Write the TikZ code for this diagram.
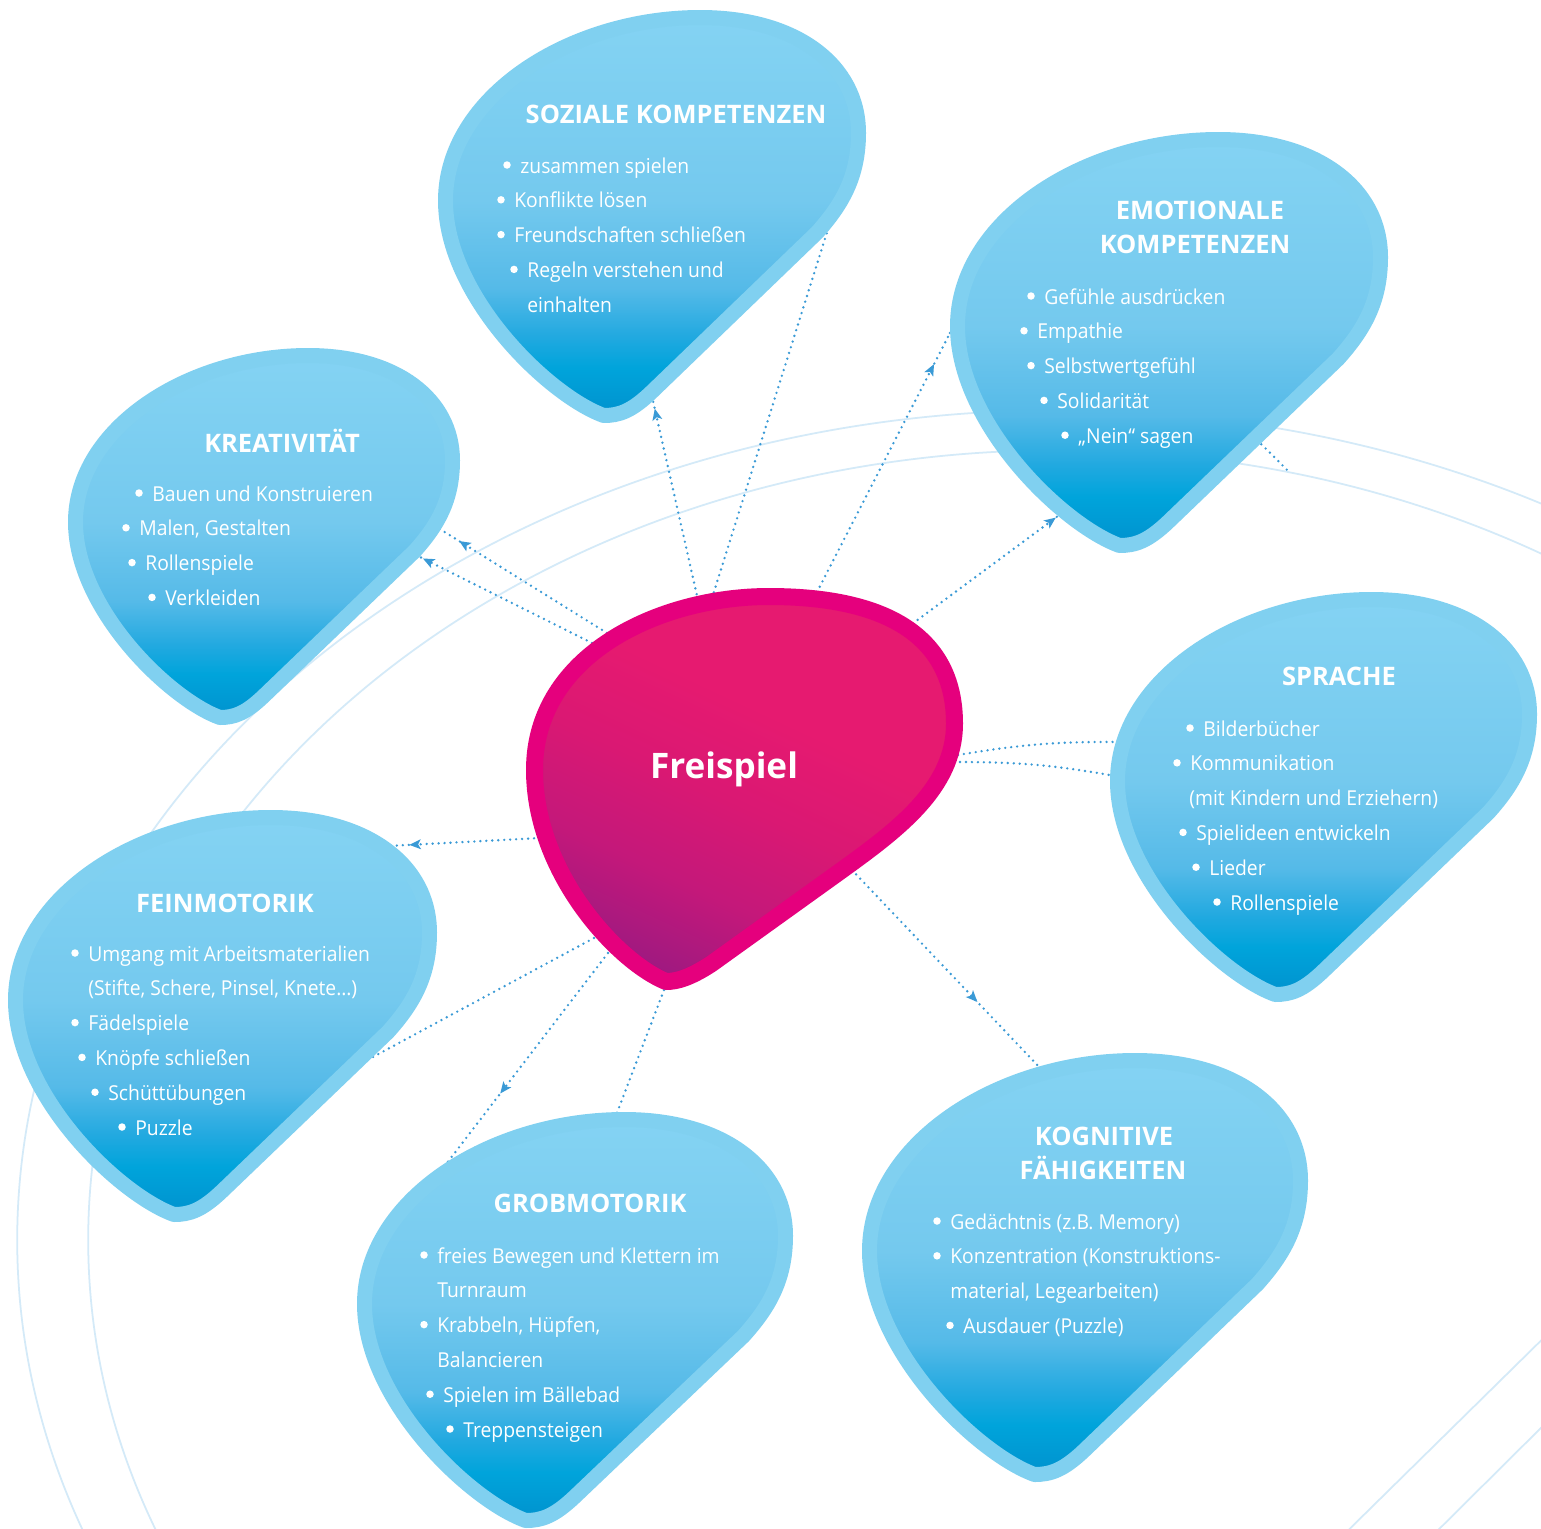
\documentclass[tikz,border=0pt]{standalone}
\usepackage{fontspec}
\setmainfont{Open Sans}
\newfontfamily\bodyfont[FakeStretch=0.94]{Open Sans}
\usepackage{tikz}
\usetikzlibrary{arrows.meta, decorations.markings}

\definecolor{blobedge}{RGB}{128,208,240}
\definecolor{bluelight}{RGB}{132,211,243}
\definecolor{bluemid}{RGB}{116,201,238}
\definecolor{bluesoft}{RGB}{85,186,232}
\definecolor{bluefade}{RGB}{34,169,224}
\definecolor{bluebright}{RGB}{0,164,219}
\definecolor{bluedeep}{RGB}{0,146,206}
\definecolor{pinkedge}{RGB}{229,0,125}
\definecolor{pinktop}{RGB}{230,26,112}
\definecolor{pinkmid}{RGB}{218,24,115}
\definecolor{pinkdeep}{RGB}{196,24,122}
\definecolor{purplebot}{RGB}{160,25,128}
\definecolor{linkblue}{RGB}{58,154,214}
\definecolor{ringblue}{RGB}{212,234,248}

\pgfdeclareverticalshading{blobshade}{100bp}{color(0bp)=(bluedeep); color(25bp)=(bluedeep);
  color(31bp)=(bluebright); color(35bp)=(bluefade); color(41bp)=(bluesoft);
  color(52bp)=(bluemid); color(75bp)=(bluelight); color(100bp)=(bluelight)}
\pgfdeclareverticalshading{pinkshade}{100bp}{color(0bp)=(purplebot); color(25bp)=(purplebot);
  color(36bp)=(pinkdeep); color(48bp)=(pinkmid); color(60bp)=(pinktop); color(100bp)=(pinktop)}

\tikzset{
  blob/.style={shade, shading=blobshade, draw=blobedge, line width=0.3cm, line join=round},
  pinkblob/.style={shade, shading=pinkshade, shading angle=-25, draw=pinkedge,
    line width=0.34cm, line join=round},
  title/.style={anchor=base, inner sep=0pt, text=white,
    font=\bfseries\fontsize{14.5}{17}\selectfont},
  item/.style={anchor=base west, inner sep=0pt, text=white,
    font=\bodyfont\fontsize{11.7}{14}\selectfont},
  dot/.style={fill=white},
  conn/.style={draw=linkblue, line width=1.5pt, line cap=round, dash pattern=on 0pt off 3.4pt},
  midarrow/.style={postaction={decorate, decoration={markings,
    mark=at position #1 with {\arrow{Stealth[length=6.5pt, width=5.5pt, inset=1.5pt]}}}}},
  ring/.style={draw=ringblue, line width=1pt}
}

% drop outlines, unit box, y downwards
\newcommand{\blobshape}{(0.383,1) .. controls (0.25,0.95) and (0,0.70) .. (0,0.46)
  .. controls (0,0.20) and (0.30,0) .. (0.617,0)
  .. controls (0.85,0) and (1,0.12) .. (1,0.29)
  .. controls (1,0.40) and (0.96,0.47) .. (0.90,0.54)
  -- (0.50,0.94)
  .. controls (0.45,0.99) and (0.42,1) .. (0.383,1) -- cycle}
\newcommand{\pinkshape}{(0.313,1) .. controls (0.20,0.95) and (0,0.72) .. (0,0.45)
  .. controls (0,0.15) and (0.30,0) .. (0.558,0)
  .. controls (0.86,0) and (1,0.12) .. (1,0.33)
  .. controls (1,0.50) and (0.86,0.61) .. (0.72,0.72)
  -- (0.42,0.955)
  .. controls (0.37,0.99) and (0.34,1) .. (0.313,1) -- cycle}

% #1 left, #2 top, #3 right, #4 bottom (outer edge)
\newcommand{\blueblob}[4]{%
  \begin{scope}[shift={(#1+7.5,#2+7.5)}, xscale=#3-#1-15, yscale=#4-#2-15]
    \path[blob] \blobshape;
  \end{scope}}
\newcommand{\pinkblob}[4]{%
  \begin{scope}[shift={(#1+8.5,#2+8.5)}, xscale=#3-#1-17, yscale=#4-#2-17]
    \path[pinkblob] \pinkshape;
  \end{scope}}

% #1 name, #2 first baseline, #3 list textx/bullet/text
\newcommand{\blobitems}[3]{%
  \foreach \lx/\lb/\ltext [count=\i] in {#3} {
    \node[item] (#1-\i) at (\lx, #2+34.8*\i-34.8) {\ltext};
    \ifnum\lb>0
      \fill[dot] ([xshift=-0.26cm, yshift=0.16cm]#1-\i.base west) circle (0.075cm);
    \fi
  }}

\begin{document}
\begin{tikzpicture}[x=0.02cm, y=-0.02cm]
  \useasboundingbox (0,0) rectangle (1541,1528);
  \clip (0,0) rectangle (1541,1528);
  \fill[white] (0,0) rectangle (1541,1528);

  % rings in the background
  \draw[ring] (1060,1240) ellipse [x radius=20.86cm, y radius=16.6cm];
  \draw[ring] (1060,1240) ellipse [x radius=19.44cm, y radius=15.8cm];
  \draw[ring] (1320,1558) -- (1571,1311);
  \draw[ring] (1410,1558) -- (1571,1398);

  % connector ends
  \coordinate (fs-kr1) at (607,633);  \coordinate (kr-1) at (435,526);
  \coordinate (fs-kr2) at (592,643);  \coordinate (kr-2) at (414,554);
  \coordinate (fs-so1) at (698,600);  \coordinate (so-1) at (651,392);
  \coordinate (fs-so2) at (712,598);  \coordinate (so-2) at (834,210);
  \coordinate (fs-em1) at (817,592);  \coordinate (em-1) at (950,333);
  \coordinate (em-3) at (1289,472);
  \coordinate (fs-em2) at (908,627);  \coordinate (em-2) at (1062,513);
  \coordinate (fs-sp1) at (958,755);  \coordinate (sp-1) at (1120,742);
  \coordinate (fs-sp2) at (960,762);  \coordinate (sp-2) at (1115,776);
  \coordinate (fs-ko) at (852,870);   \coordinate (ko) at (1042,1070);
  \coordinate (fs-gr1) at (608,953);  \coordinate (gr-1) at (437,1176);
  \coordinate (fs-gr2) at (664,990);  \coordinate (gr-2) at (615,1118);
  \coordinate (fs-fe1) at (540,838);  \coordinate (fe-1) at (388,846);
  \coordinate (fs-fe2) at (594,938);  \coordinate (fe-2) at (358,1065);

  % dotted links
  \draw[conn, midarrow=0.86] (fs-kr1) -- (kr-1);
  \draw[conn, midarrow=0.95] (fs-kr2) -- (kr-2);
  \draw[conn, midarrow=0.92] (fs-so1) -- (so-1);
  \draw[conn] (fs-so2) -- (so-2);
  \draw[conn, midarrow=0.88] (fs-em1) -- (em-1);
  \draw[conn] (em-1) .. controls (1010,215) and (1200,380) .. (em-3);
  \draw[conn, midarrow=0.96] (fs-em2) -- (em-2);
  \draw[conn] (fs-sp1) to[bend left=5] (sp-1);
  \draw[conn] (fs-sp2) to[bend left=5] (sp-2);
  \draw[conn, midarrow=0.66] (fs-ko) -- (ko);
  \draw[conn, midarrow=0.63] (fs-gr1) -- (gr-1);
  \draw[conn] (fs-gr2) -- (gr-2);
  \draw[conn, midarrow=0.86] (fs-fe1) -- (fe-1);
  \draw[conn] (fs-fe2) -- (fe-2);

  % Soziale Kompetenzen
  \blueblob{438}{10}{866}{423}
  \node[title] (so-title) at (676,123) {SOZIALE KOMPETENZEN};
  \blobitems{so}{173}{520/1/zusammen spielen, 514/1/Konflikte lösen,
    514/1/Freundschaften schließen, 527/1/Regeln verstehen und, 527/0/einhalten}

  % Kreativitaet
  \blueblob{68}{348}{460}{725}
  \node[title] (kr-title) at (282,452) {KREATIVITÄT};
  \blobitems{kr}{501}{152/1/Bauen und Konstruieren, 139/1/{Malen, Gestalten},
    145/1/Rollenspiele, 165/1/Verkleiden}

  % Emotionale Kompetenzen
  \blueblob{950}{132}{1388}{553}
  \node[title] (em-title1) at (1200,219) {EMOTIONALE};
  \node[title] (em-title2) at (1195,253) {KOMPETENZEN};
  \blobitems{em}{304}{1044/1/Gefühle ausdrücken, 1037/1/Empathie,
    1044/1/Selbstwertgefühl, 1057/1/Solidarität, 1078/1/„Nein“ sagen}

  % Sprache
  \blueblob{1110}{592}{1537}{1002}
  \node[title] (sp-title) at (1339,685) {SPRACHE};
  \blobitems{sp}{736}{1203/1/Bilderbücher, 1190/1/Kommunikation,
    1189/0/(mit Kindern und Erziehern), 1196/1/Spielideen entwickeln,
    1209/1/Lieder, 1230/1/Rollenspiele}

  % Feinmotorik
  \blueblob{8}{810}{437}{1222}
  \node[title] (fe-title) at (225,912) {FEINMOTORIK};
  \blobitems{fe}{961}{88/1/Umgang mit Arbeitsmaterialien,
    88/0/{(Stifte, Schere, Pinsel, Knete…)}, 88/1/Fädelspiele,
    95/1/Knöpfe schließen, 108/1/Schüttübungen, 135/1/Puzzle}

  % Grobmotorik
  \blueblob{357}{1112}{793}{1528}
  \node[title] (gr-title) at (590,1212) {GROBMOTORIK};
  \blobitems{gr}{1263}{437/1/freies Bewegen und Klettern im, 437/0/Turnraum,
    437/1/{Krabbeln, Hüpfen,}, 437/0/Balancieren, 443/1/Spielen im Bällebad,
    463/1/Treppensteigen}

  % Kognitive Faehigkeiten
  \blueblob{862}{1053}{1308}{1482}
  \node[title] (ko-title1) at (1104,1145) {KOGNITIVE};
  \node[title] (ko-title2) at (1103,1179) {FÄHIGKEITEN};
  \blobitems{ko}{1229}{950/1/Gedächtnis (z.B. Memory),
    950/1/Konzentration (Konstruktions-, 950/0/{material, Legearbeiten)},
    963/1/Ausdauer (Puzzle)}

  % Freispiel in the middle
  \pinkblob{526}{588}{963}{990}
  \node[title, font=\bfseries\fontsize{20}{24}\selectfont] (freispiel) at (724,778) {Freispiel};
\end{tikzpicture}
\end{document}
